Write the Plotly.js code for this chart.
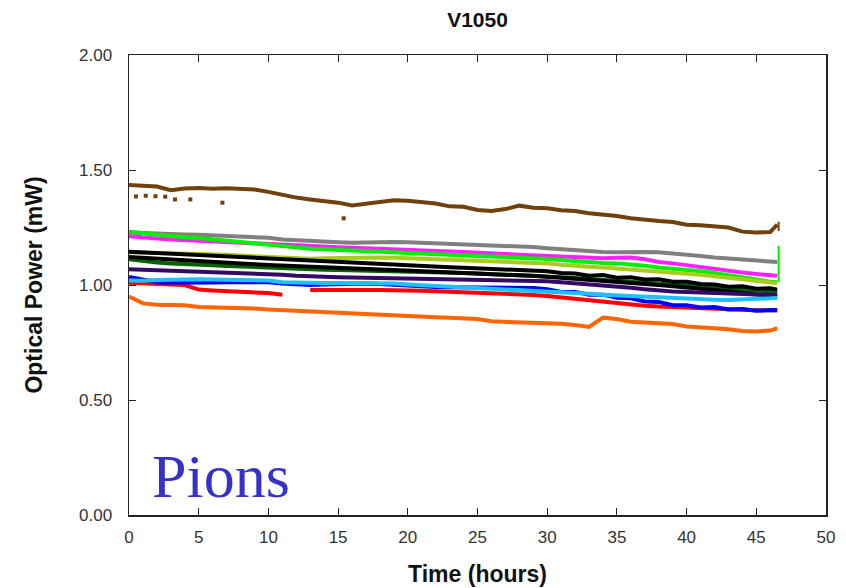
<!DOCTYPE html>
<html>
<head>
<meta charset="utf-8">
<script src="https://cdn.plot.ly/plotly-3.0.1.min.js"></script>
<style>html,body{margin:0;padding:0;background:#fff;}#chart{width:846px;height:588px;}</style>
</head>
<body>
<div id="chart"></div>
<script>
// Time samples (hours)
const hours = [0,1,2,3,4,5,6,7,8,9,10,11,12,13,14,15,16,17,18,19,20,21,22,23,24,25,26,27,28,29,30,31,32,33,34,35,36,37,38,39,40,41,42,43,44,45,46,46.5];

const brown = [1.435,1.432,1.428,1.412,1.420,1.422,1.418,1.421,1.419,1.415,1.405,1.392,1.380,1.372,1.365,1.358,1.346,1.352,1.360,1.368,1.366,1.360,1.354,1.342,1.340,1.326,1.322,1.330,1.345,1.336,1.334,1.325,1.322,1.312,1.308,1.300,1.290,1.282,1.278,1.274,1.262,1.260,1.254,1.250,1.232,1.228,1.230,1.262];
const gray = [1.228,1.225,1.224,1.222,1.220,1.218,1.216,1.214,1.212,1.208,1.205,1.198,1.194,1.190,1.187,1.186,1.184,1.186,1.188,1.187,1.186,1.184,1.182,1.178,1.175,1.172,1.170,1.168,1.166,1.165,1.160,1.155,1.150,1.146,1.143,1.142,1.145,1.144,1.142,1.138,1.132,1.126,1.120,1.116,1.112,1.108,1.104,1.100];
const magenta = [1.212,1.205,1.202,1.198,1.195,1.192,1.189,1.186,1.183,1.180,1.175,1.172,1.170,1.168,1.166,1.164,1.162,1.160,1.158,1.157,1.155,1.152,1.150,1.147,1.144,1.140,1.137,1.134,1.131,1.130,1.128,1.124,1.120,1.118,1.116,1.118,1.120,1.112,1.100,1.094,1.086,1.076,1.066,1.060,1.054,1.048,1.044,1.040];
const green = [1.232,1.225,1.218,1.212,1.208,1.204,1.198,1.192,1.186,1.180,1.175,1.168,1.162,1.158,1.155,1.152,1.150,1.148,1.146,1.143,1.140,1.137,1.134,1.131,1.128,1.126,1.124,1.122,1.120,1.117,1.113,1.109,1.104,1.100,1.096,1.094,1.090,1.084,1.076,1.072,1.066,1.060,1.052,1.044,1.034,1.024,1.014,1.012];
const yellowGreen = [1.142,1.141,1.140,1.139,1.138,1.136,1.134,1.131,1.128,1.125,1.121,1.116,1.114,1.114,1.116,1.118,1.119,1.120,1.120,1.119,1.117,1.114,1.112,1.110,1.108,1.106,1.104,1.102,1.101,1.099,1.094,1.088,1.082,1.079,1.076,1.072,1.067,1.062,1.058,1.055,1.050,1.044,1.038,1.032,1.025,1.018,1.011,1.008];
const darkGreen = [1.112,1.104,1.098,1.094,1.090,1.088,1.086,1.083,1.080,1.077,1.074,1.072,1.070,1.068,1.066,1.065,1.064,1.063,1.062,1.061,1.060,1.058,1.056,1.054,1.052,1.050,1.048,1.046,1.044,1.042,1.038,1.034,1.030,1.026,1.022,1.018,1.014,1.010,1.006,1.002,0.998,0.994,0.990,0.986,0.982,0.978,0.974,0.970];
const black1 = [1.145,1.142,1.139,1.136,1.133,1.130,1.127,1.124,1.121,1.119,1.116,1.112,1.108,1.104,1.100,1.097,1.094,1.091,1.088,1.085,1.083,1.081,1.079,1.077,1.075,1.073,1.071,1.069,1.067,1.065,1.060,1.052,1.050,1.040,1.043,1.032,1.034,1.024,1.025,1.014,1.014,1.004,1.002,0.992,0.994,0.984,0.986,0.980];
const black2 = [1.122,1.118,1.114,1.110,1.106,1.102,1.099,1.096,1.093,1.090,1.087,1.084,1.081,1.078,1.075,1.073,1.071,1.069,1.067,1.065,1.062,1.059,1.056,1.053,1.050,1.048,1.046,1.044,1.042,1.040,1.035,1.030,1.025,1.020,1.016,1.012,1.008,1.004,1.000,0.996,0.990,0.984,0.978,0.972,0.966,0.960,0.955,0.950];
const indigo = [1.068,1.066,1.064,1.062,1.060,1.058,1.057,1.056,1.055,1.053,1.050,1.045,1.040,1.037,1.035,1.034,1.033,1.032,1.031,1.030,1.029,1.028,1.027,1.026,1.025,1.024,1.023,1.022,1.021,1.020,1.016,1.012,1.008,1.004,1.000,0.994,0.988,0.982,0.976,0.972,0.970,0.968,0.966,0.964,0.962,0.960,0.958,0.956];
const red = [1.010,1.006,1.004,1.002,1.000,0.980,0.976,0.974,0.972,0.969,0.965,0.958,null,0.978,0.979,0.979,0.978,0.978,0.978,0.978,0.977,0.975,0.973,0.971,0.969,0.967,0.965,0.963,0.960,0.957,0.952,0.946,0.940,0.932,0.925,0.920,0.914,0.910,0.906,0.903,0.900,0.898,0.896,0.894,0.892,0.890,0.889,0.890];
const blue = [1.035,1.022,1.012,1.010,1.009,1.010,1.011,1.012,1.013,1.013,1.012,1.006,1.001,1.000,1.002,1.004,1.006,1.006,1.004,1.000,0.996,0.993,0.991,0.990,0.990,0.989,0.988,0.988,0.987,0.987,0.982,0.970,0.970,0.958,0.958,0.944,0.942,0.928,0.926,0.912,0.912,0.902,0.904,0.894,0.896,0.888,0.891,0.890];
const cyan = [1.020,1.018,1.022,1.024,1.025,1.025,1.024,1.023,1.022,1.021,1.020,1.012,1.010,1.009,1.009,1.009,1.009,1.009,1.008,1.006,1.002,0.999,0.996,0.993,0.990,0.988,0.985,0.983,0.980,0.978,0.975,0.970,0.966,0.962,0.958,0.955,0.952,0.948,0.945,0.942,0.940,0.938,0.936,0.935,0.936,0.938,0.942,0.944];
const orange = [0.950,0.920,0.914,0.913,0.912,0.904,0.902,0.904,0.902,0.898,0.893,0.890,0.887,0.884,0.880,0.878,0.876,0.872,0.868,0.866,0.864,0.862,0.860,0.858,0.857,0.852,0.842,0.840,0.842,0.840,0.836,0.832,0.826,0.818,0.858,0.852,0.840,0.836,0.834,0.830,0.820,0.814,0.812,0.808,0.800,0.798,0.802,0.812];

// sparse brown outlier points
const brownDotsX = [0.5,1.2,1.9,2.6,3.3,4.4,6.7,15.4];
const brownDotsY = [1.385,1.388,1.386,1.384,1.372,1.372,1.358,1.290];

// end-of-run spikes
const spikeX = [46.6,46.6];
const greenSpikeY = [1.012,1.170];
const brownSpikeY = [1.235,1.275];

const series = [
  {y: gray, c: '#808080'},
  {y: magenta, c: '#ff22ff'},
  {y: green, c: '#00ee00'},
  {y: yellowGreen, c: '#a8cc1c'},
  {y: darkGreen, c: '#006400'},
  {y: black2, c: '#000000'},
  {y: black1, c: '#000000'},
  {y: indigo, c: '#330a66'},
  {y: red, c: '#ff0000'},
  {y: blue, c: '#0000ff'},
  {y: cyan, c: '#1ec0ff'},
  {y: orange, c: '#ff6600'},
  {y: brown, c: '#70400d'}
];

const traces = series.map(s => ({
  type: 'scatter', mode: 'lines', x: hours, y: s.y,
  line: {color: s.c, width: 4}, connectgaps: false, hoverinfo: 'skip'
}));
traces.push({type:'scatter', mode:'markers', x: brownDotsX, y: brownDotsY, marker:{color:'#70400d', size:4, symbol:'square'}});
traces.push({type:'scatter', mode:'lines', x: spikeX, y: greenSpikeY, line:{color:'#00ee00', width:2}});
traces.push({type:'scatter', mode:'lines', x: spikeX, y: brownSpikeY, line:{color:'#70400d', width:2}});

const fam = 'Liberation Sans, Arial, sans-serif';
const axisFont = {family: fam, size: 17, color: '#333333'};
const layout = {
  width: 846, height: 588,
  margin: {l: 129, r: 20, t: 55, b: 73},
  paper_bgcolor: '#ffffff', plot_bgcolor: '#ffffff',
  showlegend: false,
  title: {text: '<b>V1050</b>', font: {family: fam, size: 21, color: '#111'},
          x: 0.5, xref: 'paper', y: 1 - 20/588, yref: 'container', yanchor: 'middle'},
  xaxis: {range: [0, 50], dtick: 5, tick0: 0, ticks: 'inside', ticklen: 7, tickcolor: '#222',
          showline: true, linecolor: '#222', linewidth: 1.5, mirror: 'ticks', showgrid: false, zeroline: false,
          tickfont: axisFont, ticklabelstandoff: 6,
          title: {text: '<b>Time (hours)</b>', font: {family: fam, size: 23, color: '#111'}, standoff: 20}},
  yaxis: {range: [0, 2], dtick: 0.5, tick0: 0, tickformat: '.2f', ticks: 'inside', ticklen: 7, tickcolor: '#222',
          showline: true, linecolor: '#222', linewidth: 1.5, mirror: 'ticks', showgrid: false, zeroline: false,
          tickfont: axisFont, ticklabelstandoff: 12,
          title: {text: '<b>Optical Power (mW)</b>', font: {family: fam, size: 23, color: '#111'}, standoff: 30}},
  annotations: [{text: 'Pions', xref: 'paper', yref: 'y', x: (150-129)/697, y: 0.17, xanchor: 'left', yanchor: 'middle',
                 showarrow: false, font: {family: 'Liberation Serif, Times New Roman, serif', size: 62, color: '#3333cc'}}]
};

Plotly.newPlot('chart', traces, layout, {displayModeBar: false, staticPlot: true});
</script>
</body>
</html>
